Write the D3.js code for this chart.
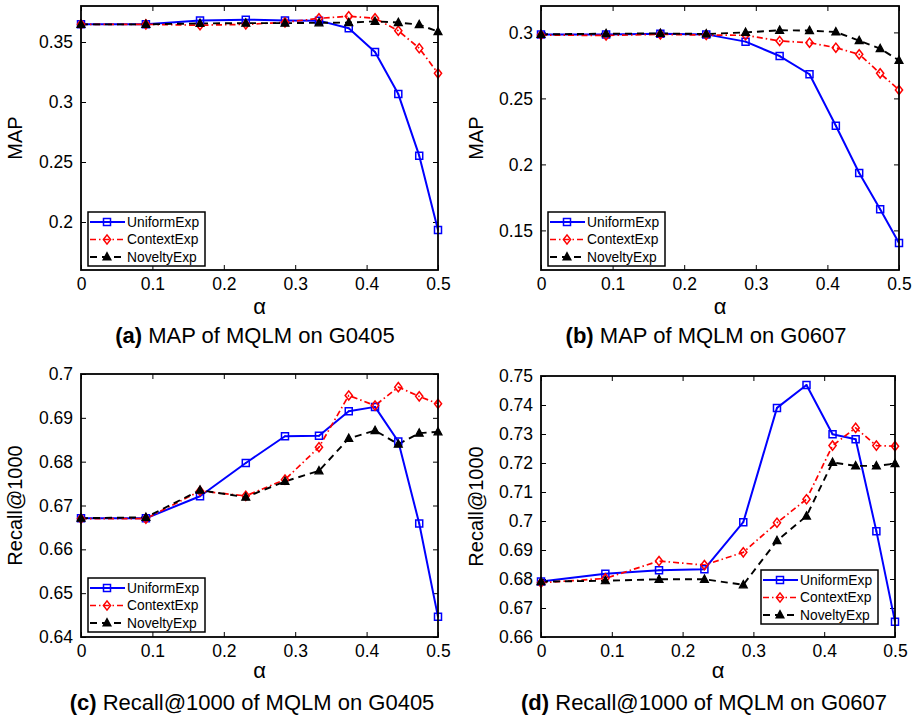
<!DOCTYPE html>
<html><head><meta charset="utf-8">
<script src="https://cdn.jsdelivr.net/npm/d3@7"></script>
<style>
body{margin:0;background:#fff}
svg{display:block}
text{font-family:"Liberation Sans",Arial,Helvetica,sans-serif;fill:#000}
</style>
</head><body>
<svg id="chart" width="915" height="717"></svg>
<script>
// ---------- DATA ----------
const alpha = [0, 0.0909, 0.1667, 0.2308, 0.2857, 0.3333, 0.375, 0.4118, 0.4444, 0.4737, 0.5];
const xTicks = [0, 0.1, 0.2, 0.3, 0.4, 0.5];
const xTickLabels = ["0", "0.1", "0.2", "0.3", "0.4", "0.5"];
const seriesNames = ["UniformExp", "ContextExp", "NoveltyExp"];

const mapG0405Uniform = [0.3647, 0.3647, 0.3680, 0.3686, 0.3680, 0.3678, 0.3614, 0.3416, 0.3066, 0.2553, 0.1933];
const mapG0405Context = [0.3647, 0.3647, 0.3640, 0.3647, 0.3664, 0.3697, 0.3715, 0.3697, 0.3594, 0.3448, 0.3239];
const mapG0405Novelty = [0.3647, 0.3647, 0.3655, 0.3657, 0.3657, 0.3660, 0.3662, 0.3672, 0.3662, 0.3645, 0.3586];

const mapG0607Uniform = [0.2985, 0.2985, 0.2990, 0.2985, 0.2930, 0.2821, 0.2683, 0.2293, 0.1935, 0.1660, 0.1405];
const mapG0607Context = [0.2980, 0.2977, 0.2985, 0.2980, 0.2978, 0.2935, 0.2922, 0.2884, 0.2834, 0.2690, 0.2564];
const mapG0607Novelty = [0.2985, 0.2990, 0.2992, 0.2988, 0.3000, 0.3016, 0.3014, 0.3003, 0.2937, 0.2877, 0.2788];

const recG0405Uniform = [0.6671, 0.6671, 0.6721, 0.6797, 0.6858, 0.6859, 0.6915, 0.6925, 0.6846, 0.6659, 0.6446];
const recG0405Context = [0.6670, 0.6670, 0.6733, 0.6722, 0.6759, 0.6833, 0.6951, 0.6928, 0.6970, 0.6949, 0.6932];
const recG0405Novelty = [0.6671, 0.6673, 0.6735, 0.6719, 0.6755, 0.6779, 0.6853, 0.6871, 0.6840, 0.6865, 0.6868];

const recG0607Uniform = [0.6791, 0.6818, 0.6830, 0.6834, 0.6996, 0.7390, 0.7469, 0.7299, 0.7282, 0.6965, 0.6653];
const recG0607Context = [0.6787, 0.6802, 0.6862, 0.6848, 0.6892, 0.6994, 0.7075, 0.7260, 0.7321, 0.7260, 0.7258];
const recG0607Novelty = [0.6791, 0.6794, 0.6799, 0.6799, 0.6780, 0.6932, 0.7017, 0.7202, 0.7190, 0.7190, 0.7198];

const mapG0405Ticks = [0.2, 0.25, 0.3, 0.35];
const mapG0405TickLabels = ["0.2", "0.25", "0.3", "0.35"];
const mapG0607Ticks = [0.15, 0.2, 0.25, 0.3];
const mapG0607TickLabels = ["0.15", "0.2", "0.25", "0.3"];
const recG0405Ticks = [0.64, 0.65, 0.66, 0.67, 0.68, 0.69, 0.70];
const recG0405TickLabels = ["0.64", "0.65", "0.66", "0.67", "0.68", "0.69", "0.7"];
const recG0607Ticks = [0.66, 0.67, 0.68, 0.69, 0.70, 0.71, 0.72, 0.73, 0.74, 0.75];
const recG0607TickLabels = ["0.66", "0.67", "0.68", "0.69", "0.7", "0.71", "0.72", "0.73", "0.74", "0.75"];

const panelTags = ["(a)", "(b)", "(c)", "(d)"];
const panelTitles = ["MAP of MQLM on G0405", "MAP of MQLM on G0607", "Recall@1000 of MQLM on G0405", "Recall@1000 of MQLM on G0607"];
const yLabels = ["MAP", "MAP", "Recall@1000", "Recall@1000"];
const xLabel = "α";

// ---------- LAYOUT / STYLE ----------
const panels = [
  {series: [mapG0405Uniform, mapG0405Context, mapG0405Novelty], yDomain: [0.16, 0.38],
   yTicks: mapG0405Ticks, yTickLabels: mapG0405TickLabels,
   box: {x0: 81, x1: 438, y0: 6, y1: 270}, legend: {x: 88, y: 212}, titleX: 255, titleY: 343, ylabX: 22, xlabY: 314},
  {series: [mapG0607Uniform, mapG0607Context, mapG0607Novelty], yDomain: [0.12, 0.32],
   yTicks: mapG0607Ticks, yTickLabels: mapG0607TickLabels,
   box: {x0: 541, x1: 899, y0: 6, y1: 270}, legend: {x: 548, y: 212}, titleX: 706, titleY: 343, ylabX: 483, xlabY: 314},
  {series: [recG0405Uniform, recG0405Context, recG0405Novelty], yDomain: [0.64, 0.70],
   yTicks: recG0405Ticks, yTickLabels: recG0405TickLabels,
   box: {x0: 81, x1: 438, y0: 374, y1: 637}, legend: {x: 88, y: 578}, titleX: 252, titleY: 710, ylabX: 22, xlabY: 678},
  {series: [recG0607Uniform, recG0607Context, recG0607Novelty], yDomain: [0.66, 0.75],
   yTicks: recG0607Ticks, yTickLabels: recG0607TickLabels,
   box: {x0: 541, x1: 895, y0: 376, y1: 637}, legend: {x: 761, y: 570}, titleX: 704, titleY: 710, ylabX: 483, xlabY: 678}
];

const styles = [
  {color: "#0000ff", dash: null, width: 2, marker: "square"},
  {color: "#ff0000", dash: "6,3,1.5,3", width: 1.7, marker: "diamond"},
  {color: "#000000", dash: "7,5", width: 1.9, marker: "triangle"}
];

function markerPath(type) {
  if (type === "square") return "M-3.5,-3.5H3.5V3.5H-3.5Z";
  if (type === "diamond") return "M0,-4.6L3.6,0L0,4.6L-3.6,0Z";
  return "M0,-4.4L4,3L-4,3Z";
}
function drawMarker(g, type, color, x, y) {
  g.append("path").attr("d", markerPath(type))
    .attr("transform", `translate(${x},${y})`)
    .attr("fill", type === "triangle" ? color : "none")
    .attr("stroke", color).attr("stroke-width", type === "triangle" ? 1.2 : 1.5);
  if (type === "square") {
    g.append("rect").attr("x", x - 0.8).attr("y", y - 0.8).attr("width", 1.6).attr("height", 1.6).attr("fill", color);
  }
}

const svg = d3.select("#chart");
const tickFont = 17.5;

panels.forEach((p, pi) => {
  const b = p.box;
  const x = d3.scaleLinear().domain([0, 0.5]).range([b.x0, b.x1]);
  const y = d3.scaleLinear().domain(p.yDomain).range([b.y1, b.y0]);
  const g = svg.append("g");

  const bottom = g.append("g").attr("transform", `translate(0,${b.y1})`)
    .call(d3.axisBottom(x).tickValues(xTicks).tickFormat((d, i) => xTickLabels[i]).tickSize(-5).tickPadding(8));
  const top = g.append("g").attr("transform", `translate(0,${b.y0})`)
    .call(d3.axisTop(x).tickValues(xTicks).tickFormat("").tickSize(-5));
  const left = g.append("g").attr("transform", `translate(${b.x0},0)`)
    .call(d3.axisLeft(y).tickValues(p.yTicks).tickFormat((d, i) => p.yTickLabels[i]).tickSize(-5).tickPadding(8));
  const right = g.append("g").attr("transform", `translate(${b.x1},0)`)
    .call(d3.axisRight(y).tickValues(p.yTicks).tickFormat("").tickSize(-5));
  [bottom, top, left, right].forEach(a => {
    a.select(".domain").remove();
    a.selectAll(".tick line").attr("stroke", "#000").attr("stroke-width", 1);
    a.selectAll(".tick text").attr("font-size", tickFont).attr("font-family", '"Liberation Sans",Arial,sans-serif').attr("fill", "#000");
  });

  const line = d3.line().x((d, i) => x(alpha[i])).y(d => y(d));
  p.series.forEach((vals, si) => {
    const s = styles[si];
    g.append("path").datum(vals).attr("d", line)
      .attr("fill", "none").attr("stroke", s.color).attr("stroke-width", s.width)
      .attr("stroke-dasharray", s.dash).attr("stroke-linejoin", "round");
  });
  p.series.forEach((vals, si) => {
    const s = styles[si];
    vals.forEach((v, i) => drawMarker(g, s.marker, s.color, x(alpha[i]), y(v)));
  });

  g.append("rect").attr("x", b.x0).attr("y", b.y0).attr("width", b.x1 - b.x0).attr("height", b.y1 - b.y0)
    .attr("fill", "none").attr("stroke", "#000").attr("stroke-width", 1.8);

  g.append("text").attr("x", (b.x0 + b.x1) / 2).attr("y", p.xlabY).attr("text-anchor", "middle")
    .attr("font-size", 22).attr("font-family", '"Liberation Serif","DejaVu Serif",serif').text(xLabel);
  g.append("text").attr("transform", `translate(${p.ylabX},${(b.y0 + b.y1) / 2}) rotate(-90)`)
    .attr("text-anchor", "middle").attr("font-size", 20).text(yLabels[pi]);

  const t = g.append("text").attr("x", p.titleX).attr("y", p.titleY).attr("text-anchor", "middle").attr("font-size", 22);
  t.append("tspan").attr("font-weight", "bold").text(panelTags[pi]);
  t.append("tspan").text(" " + panelTitles[pi]);

  const L = p.legend;
  const lg = g.append("g").attr("transform", `translate(${L.x},${L.y})`);
  lg.append("rect").attr("width", 117).attr("height", 54).attr("fill", "#fff").attr("stroke", "#000").attr("stroke-width", 1.5);
  seriesNames.forEach((name, si) => {
    const s = styles[si];
    const yy = 10 + si * 17.5;
    lg.append("line").attr("x1", 2).attr("x2", 37).attr("y1", yy).attr("y2", yy)
      .attr("stroke", s.color).attr("stroke-width", s.width).attr("stroke-dasharray", s.dash);
    drawMarker(lg, s.marker, s.color, 19, yy);
    lg.append("text").attr("x", 39).attr("y", yy).attr("dy", "0.36em").attr("font-size", 13.8).text(name);
  });
});
</script>
</body></html>
